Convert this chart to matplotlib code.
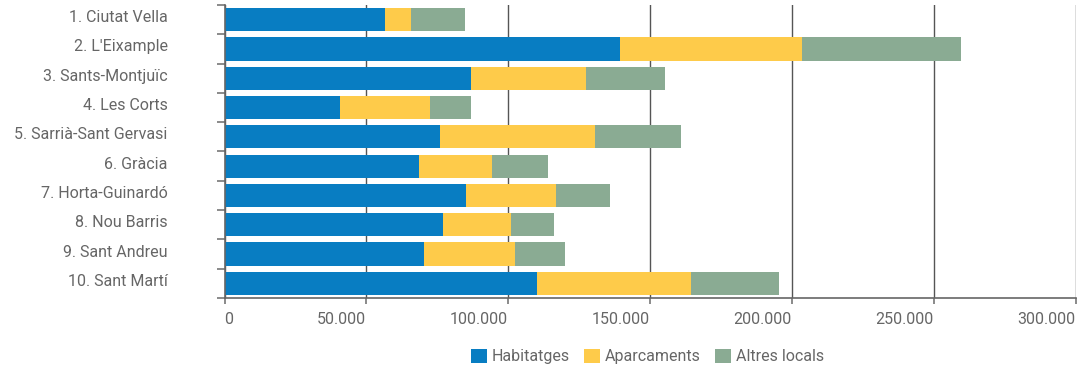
import matplotlib.pyplot as plt
import matplotlib.transforms as mtransforms
import numpy as np

districts = [
    "1. Ciutat Vella", "2. L'Eixample", "3. Sants-Montjuïc", "4. Les Corts",
    "5. Sarrià-Sant Gervasi", "6. Gràcia", "7. Horta-Guinardó", "8. Nou Barris",
    "9. Sant Andreu", "10. Sant Martí",
]
habitatges = [56600, 139500, 87000, 40700, 75900, 68600, 85200, 77000, 70400, 110200]
aparcaments = [9200, 64200, 40500, 31800, 54800, 25700, 31700, 24000, 32000, 54200]
altres = [19000, 56000, 27600, 14500, 30300, 19700, 19100, 15200, 17600, 31100]
series_names = ["Habitatges", "Aparcaments", "Altres locals"]
colors = ["#087dc2", "#fecb4a", "#8aab93"]
xticks = [0, 50000, 100000, 150000, 200000, 250000, 300000]
xlabels = ["0", "50.000", "100.000", "150.000", "200.000", "250.000", "300.000"]

TXT = "#666666"
FS = 11.5
plt.rcParams["font.family"] = ["Roboto", "DejaVu Sans"]

W, H = 1090, 371
fig = plt.figure(figsize=(W / 100, H / 100), dpi=100)
ax = fig.add_axes([224.5 / W, (H - 298) / H, (1075.6 - 224.5) / W, (298 - 5) / H])

y = np.arange(len(districts))
left = np.zeros(len(districts))
for name, vals, c in zip(series_names, [habitatges, aparcaments, altres], colors):
    ax.barh(y, vals, left=left, height=0.79, color=c, label=name, zorder=3)
    left = left + np.array(vals)

ax.set_xlim(0, 300000)
ax.set_ylim(len(districts) - 0.5, -0.5)

# category boundaries carry the tick marks, centres carry the labels
ax.set_yticks(np.arange(-0.5, len(districts)), labels=[""] * (len(districts) + 1))
ax.set_yticks(y, labels=districts, minor=True)
ax.tick_params(axis="y", which="major", length=6, width=1.2, color="#777777")
ax.tick_params(axis="y", which="minor", length=0, pad=41, labelsize=FS, labelcolor=TXT)
shift_up = mtransforms.ScaledTranslation(0, 3.5 / 100, fig.dpi_scale_trans)
for lab in ax.get_yticklabels(minor=True):
    lab.set_transform(lab.get_transform() + shift_up)

ax.set_xticks(xticks, labels=xlabels)
ax.tick_params(axis="x", length=4, width=1.2, color="#777777", labelsize=FS,
               labelcolor=TXT, pad=6)
for i, lab in enumerate(ax.get_xticklabels()):
    lab.set_ha("left" if i == 0 else "right")

ax.grid(axis="x", color="#555555", linewidth=1, zorder=0)
for s in ["top", "right"]:
    ax.spines[s].set_visible(False)
for s in ["left", "bottom"]:
    ax.spines[s].set_color("#666666")
    ax.spines[s].set_linewidth(1.2)
ax.spines["left"].set_zorder(4)

leg = ax.legend(loc="center", bbox_to_anchor=(0.497, -0.2), ncol=3, frameon=False,
                fontsize=FS, handlelength=1.0, handleheight=1.0, handletextpad=0.3,
                columnspacing=0.9, borderaxespad=0)
for t in leg.get_texts():
    t.set_color(TXT)

fig.savefig("out.png", dpi=100)
